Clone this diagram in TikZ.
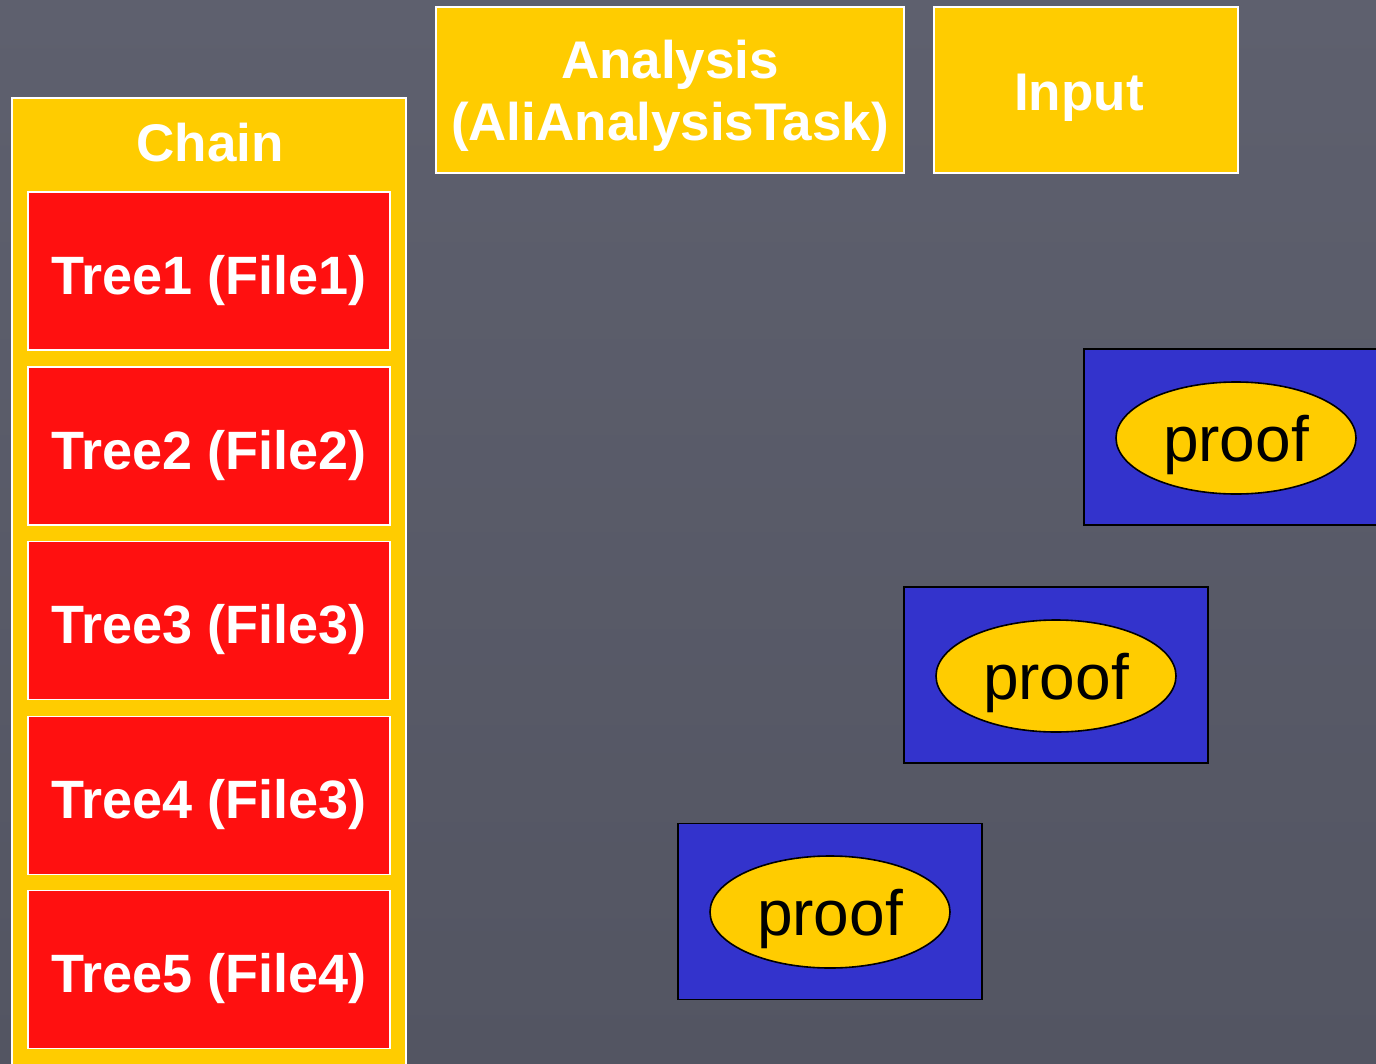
\documentclass[tikz,border=0pt]{standalone}
\usepackage{fontspec}
\setmainfont{Liberation Sans}
\usetikzlibrary{shapes.geometric}
\definecolor{bgtop}{HTML}{5E606E}
\definecolor{bgbot}{HTML}{535562}
\definecolor{gold}{HTML}{FFCC00}
\definecolor{redbox}{HTML}{FF1010}
\definecolor{bluebox}{HTML}{3333CC}
\begin{document}
\begin{tikzpicture}[x=1pt,y=-1pt,
  ybox/.style={draw=white, line width=1.8pt, fill=gold, inner sep=0pt, outer sep=0pt,
    text=white, align=center, font=\fontsize{53}{62}\selectfont\bfseries, text depth=0pt},
  rbox/.style={draw=white, line width=1.8pt, fill=redbox, inner sep=0pt, outer sep=0pt,
    text=white, font=\fontsize{54}{62}\selectfont\bfseries,
    text height=46pt, text depth=0pt,
    minimum width=362pt, minimum height=158pt},
  bbox/.style={draw=black, line width=1.6pt, fill=bluebox, inner sep=0pt, outer sep=0pt,
    minimum width=304pt, minimum height=176pt},
  proofell/.style={ellipse, draw=black, line width=1.6pt, fill=gold, inner sep=0pt,
    minimum width=240pt, minimum height=112pt, text=black,
    text height=54pt, text depth=8pt,
    font=\fontsize{64}{70}\selectfont}
]
\useasboundingbox (0,0) rectangle (1376,1063);
\clip (0,0) rectangle (1376,1063);
\shade[top color=bgtop, bottom color=bgbot] (0,0) rectangle (1376,1063);

% Chain container
\node[ybox, minimum width=394pt, minimum height=990pt, anchor=north west] (chain) at (12,98) {};
\node[text=white, font=\fontsize{53}{62}\selectfont\bfseries] (chaintitle) at (210,143) {Chain};

\node[rbox] (t1) at (209,271) {Tree1 (File1)};
\node[rbox] (t2) at (209,446) {Tree2 (File2)};
\node[rbox] (t3) at (209,620.5) {Tree3 (File3)};
\node[rbox] (t4) at (209,795.5) {Tree4 (File3)};
\node[rbox] (t5) at (209,969.5) {Tree5 (File4)};

% Top boxes
\node[ybox, minimum width=468pt, minimum height=166pt] (analysis) at (670,90) {Analysis\\(AliAnalysisTask)};
\node[ybox, minimum width=304pt, minimum height=166pt] (input) at (1086,90) {};
\node[text=white, font=\fontsize{53}{62}\selectfont\bfseries, text depth=0pt] (inputtxt) at (1079,92) {Input};

% Proof boxes
\node[bbox] (b1) at (1236,437) {};
\node[bbox] (b2) at (1056,675) {};
\node[bbox] (b3) at (830,911.5) {};
\node[proofell] (p1) at (1236,438) {proof};
\node[proofell] (p2) at (1056,676) {proof};
\node[proofell] (p3) at (830,912) {proof};
\end{tikzpicture}
\end{document}
